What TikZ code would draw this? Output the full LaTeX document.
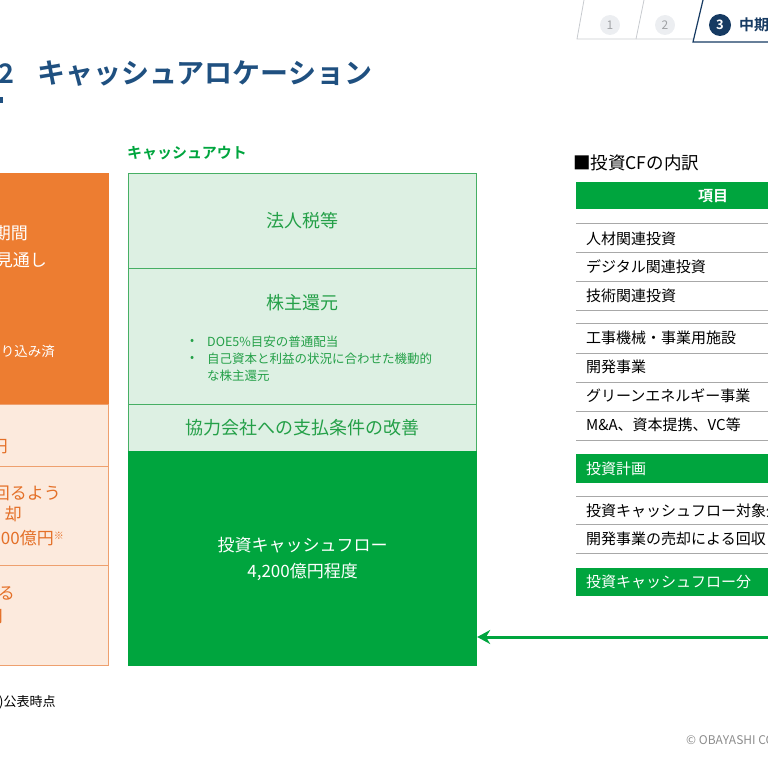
\documentclass[tikz,border=0pt]{standalone}
\usepackage{fontspec}
\setmainfont{Noto Sans CJK JP}[BoldFont={Noto Sans CJK JP Bold}]
\usetikzlibrary{arrows.meta,positioning}

\definecolor{titleblue}{RGB}{31,80,128}
\definecolor{navy}{RGB}{22,58,98}
\definecolor{tabgray}{RGB}{200,203,207}
\definecolor{tabfill}{RGB}{236,238,241}
\definecolor{darkgreen}{RGB}{0,165,62}
\definecolor{palegreen}{RGB}{221,240,227}
\definecolor{edgegreen}{RGB}{70,175,100}
\definecolor{textgreen}{RGB}{36,160,72}
\definecolor{cashorange}{RGB}{237,125,49}
\definecolor{paleorange}{RGB}{252,234,221}
\definecolor{edgeorange}{RGB}{238,160,110}
\definecolor{textorange}{RGB}{228,112,40}
\definecolor{rulegray}{RGB}{168,168,168}

\newcommand{\fsz}[1]{\fontsize{#1}{#1}\selectfont}

\begin{document}
\begin{tikzpicture}[x=1pt,y=-1pt,>={Stealth[length=13pt,width=14pt]},node distance=6pt]
  \tikzstyle{every node}=[inner sep=0pt]
  \tikzstyle{outbox}=[draw=edgegreen,line width=1.2pt,fill=palegreen,anchor=north west,minimum width=348pt,text=textgreen,font=\fsz{18}]
  \tikzstyle{inbox}=[draw=edgeorange,line width=1.2pt,fill=paleorange,anchor=north west,minimum width=118pt]
  \tikzstyle{cfbar}=[fill=darkgreen,anchor=north west,minimum width=200pt]
  \tikzstyle{rowtext}=[anchor=west,font=\fsz{15}]
  \tikzstyle{intext}=[anchor=east,text=textorange,font=\fsz{17}]
  \tikzstyle{tabmark}=[circle,minimum size=20pt,font=\fsz{12}]
  \useasboundingbox (0,0) rectangle (768,768);

  \node[anchor=east,text=titleblue,font=\bfseries\fsz{27}] (secno) at (15,74) {2};
  \node[anchor=west,text=titleblue,font=\bfseries\fsz{28}] (title) at (37,74) {キャッシュアロケーション};
  \fill[titleblue] (0,97) rectangle (3,103);

  \draw[tabgray,line width=0.8pt] (584,0) -- (577,39) -- (693,39);
  \draw[tabgray,line width=0.8pt] (644,0) -- (636,39);
  \draw[navy,line width=1.2pt] (703,0) -- (693,42) -- (770,42);
  \node[tabmark,fill=tabfill,text=tabgray!80!black] (tab1) at (610,25) {1};
  \node[tabmark,fill=tabfill,text=tabgray!80!black] (tab2) at (665,25) {2};
  \node[tabmark,fill=navy,text=white,font=\bfseries\fsz{13},minimum size=22pt] (tab3) at (720,25) {3};
  \node[anchor=west,text=navy,font=\bfseries\fsz{15}] (tabname) at (739,25) {中期経営計画};

  \node[inbox,fill=cashorange,draw=cashorange,minimum height=231pt] (inflow) at (-10,173) {};
  \node[inbox,minimum height=62pt] (cell1) at (-10,404) {};
  \node[inbox,minimum height=99pt] (cell2) at (-10,466) {};
  \node[inbox,minimum height=100pt] (cell3) at (-10,565) {};
  \node[intext,text=white] at (28,233) {期間};
  \node[intext,text=white] at (47,260) {見通し};
  \node[intext,text=white,font=\fsz{13.5}] at (55,351) {り込み済};
  \node[intext] at (8,446) {億円};
  \node[intext] at (61,493) {回るよう};
  \node[intext] at (22,514) {却};
  \node[intext] at (64,538) {00億円{\fsz{10}\raisebox{5pt}{※}}};
  \node[intext] at (15,593) {る};
  \node[intext] at (3,617) {円};

  \node[anchor=west,text=darkgreen,font=\bfseries\fsz{15}] (outhead) at (127,153) {キャッシュアウト};
  \node[outbox,minimum height=95pt] (tax) at (128,173) {法人税等};
  \node[outbox,minimum height=136pt] (share) at (128,268) {};
  \node[outbox,minimum height=47pt] (partner) at (128,404) {協力会社への支払条件の改善};
  \node[outbox,fill=darkgreen,draw=darkgreen,minimum height=214pt,text=white,align=center,font=\fontsize{17}{26}\selectfont] (invest) at (128,451) {投資キャッシュフロー\\4,200億円程度};
  \node[text=textgreen,font=\fsz{18}] (sharetitle) at (302,303) {株主還元};
  \foreach \y/\t in {342/DOE5\%目安の普通配当,359/自己資本と利益の状況に合わせた機動的} {
    \node[anchor=west,text=textgreen,font=\fsz{12}] at (190,\y) {•};
    \node[anchor=west,text=textgreen,font=\fsz{12.5}] at (207,\y) {\t};
  }
  \node[anchor=west,text=textgreen,font=\fsz{12.5}] at (207,376) {な株主還元};

  \node[anchor=west,font=\fsz{17.5}] (cfhead) at (573,163) {■投資CFの内訳};
  \node[cfbar,minimum height=27pt] (colhead) at (576,182) {};
  \node[text=white,font=\bfseries\fsz{15}] at (713,196) {項目};
  \foreach \y in {223,252,281,310,323,353,382,411,440,496,524,553}
    \draw[rulegray,line width=1pt] (576,\y) -- (770,\y);
  \foreach \y/\t in {239/人材関連投資,267/デジタル関連投資,296/技術関連投資,338/工事機械・事業用施設,367/開発事業,396/グリーンエネルギー事業,425/M\&A、資本提携、VC等,511/投資キャッシュフロー対象外,539/開発事業の売却による回収}
    \node[rowtext] at (586,\y) {\t};
  \node[cfbar,minimum height=29pt] (plan) at (576,454) {};
  \node[rowtext,text=white] at (586,469) {投資計画};
  \node[cfbar,minimum height=28pt] (cfpart) at (576,568) {};
  \node[rowtext,text=white] at (586,582) {投資キャッシュフロー分};

  \coordinate (cfend) at (772,637);
  \draw[->,darkgreen,line width=3pt] (cfend) -- (invest.east |- cfend);

  \node[anchor=west,font=\fsz{13}] (note) at (-1,702) {)公表時点};
  \node[anchor=west,text=black!45,font=\fsz{12}] (copy) at (686,740) {© OBAYASHI CORPORATION};
\end{tikzpicture}
\end{document}
